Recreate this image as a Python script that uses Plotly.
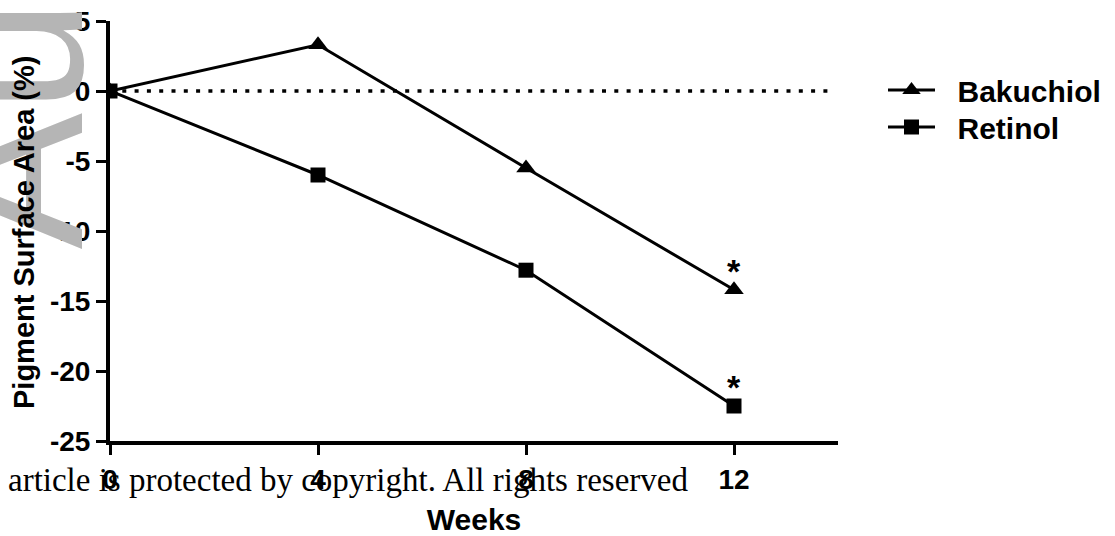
import plotly.graph_objects as go

# ---- data ----
weeks = [0, 4, 8, 12]
bakuchiol = [0, 3.3, -5.5, -14.2]
retinol = [0, -6.0, -12.8, -22.5]
series_names = ["Bakuchiol", "Retinol"]
x_ticks = [0, 4, 8, 12]
y_ticks = [-25, -20, -15, -10, -5, 0, 5]
sig_week = 12
sig_bakuchiol = -14.2
sig_retinol = -22.5

FONT = "Liberation Sans, Arial, sans-serif"
W, H = 1115, 536
ML, MR, MT, MB = 110, 277, 21, 95
PW = W - ML - MR
PH = H - MT - MB


def px_x(px):
    return (px - ML) / PW


def px_y(py):
    return (H - MB - py) / PH


LEG_PAD = "\u2002\u200a"

fig = go.Figure()

fig.add_trace(go.Scatter(
    x=weeks, y=bakuchiol, name=LEG_PAD + series_names[0], mode="lines+markers",
    line=dict(color="black", width=3),
    marker=dict(symbol="triangle-up", size=17, color="black"),
    legend="legend",
))
fig.add_trace(go.Scatter(
    x=weeks, y=retinol, name=LEG_PAD + series_names[1], mode="lines+markers",
    line=dict(color="black", width=3),
    marker=dict(symbol="square", size=15, color="black"),
    legend="legend2",
))

# dotted zero reference line
fig.add_shape(type="line", xref="x", yref="y", x0=0, x1=13.85, y0=0, y1=0,
              line=dict(color="black", width=3.5, dash="4px,8.3px"), layer="below")

annotations = []
# watermark
annotations.append(dict(
    text="Author Manuscript", textangle=-90, showarrow=False,
    xref="paper", yref="paper", x=px_x(126), y=px_y(252),
    xanchor="right", yanchor="bottom",
    font=dict(family=FONT, size=205, color="#b5b5b5", weight="normal"),
))
# y-axis title (drawn above watermark)
annotations.append(dict(
    text="Pigment Surface Area (%)", textangle=-90, showarrow=False,
    xref="paper", yref="paper", x=px_x(24), y=px_y(233),
    xanchor="center", yanchor="middle",
    font=dict(family=FONT, size=29, color="black", weight="bold"),
))
# copyright footer
annotations.append(dict(
    text="article is protected by copyright. All rights reserved", showarrow=False,
    xref="paper", yref="paper", x=px_x(690), y=px_y(480),
    xanchor="right", yanchor="middle",
    font=dict(family="Liberation Serif, serif", size=33, color="black", weight="normal"),
))
# significance asterisks
for yv in (sig_bakuchiol, sig_retinol):
    annotations.append(dict(
        text="*", showarrow=False, x=sig_week, y=yv, xref="x", yref="y",
        yshift=19, font=dict(family=FONT, size=34, color="black", weight="bold"),
    ))

leg_common = dict(
    xanchor="left", yanchor="middle",
    font=dict(family=FONT, size=30, color="black", weight="bold"),
    itemwidth=47, bgcolor="rgba(0,0,0,0)",
)

fig.update_layout(
    width=W, height=H,
    margin=dict(l=ML, r=MR, t=MT, b=MB, autoexpand=False),
    paper_bgcolor="white", plot_bgcolor="white",
    font=dict(family=FONT, size=28, color="black", weight="bold"),
    showlegend=True,
    legend=dict(x=px_x(883), y=px_y(90), **leg_common),
    legend2=dict(x=px_x(883), y=px_y(127), **leg_common),
    annotations=annotations,
    xaxis=dict(
        range=[0, 14], tickvals=x_ticks, ticktext=[str(v) for v in x_ticks],
        showline=True, linewidth=4, linecolor="black", mirror=False,
        ticks="outside", ticklen=10, tickwidth=3, tickcolor="black",
        showgrid=False, zeroline=False, automargin=False,
        tickfont=dict(family=FONT, size=28, color="black", weight="bold"),
        title=dict(text="Weeks", font=dict(family=FONT, size=30, color="black", weight="bold"),
                   standoff=22),
    ),
    yaxis=dict(
        range=[-25, 5], tickvals=y_ticks, ticktext=[str(v) for v in y_ticks],
        showline=True, linewidth=4, linecolor="black",
        ticks="outside", ticklen=10, tickwidth=3, tickcolor="black",
        showgrid=False, zeroline=False, automargin=False,
        tickfont=dict(family=FONT, size=28, color="black", weight="bold"),
    ),
)

fig.write_html("out.html")
